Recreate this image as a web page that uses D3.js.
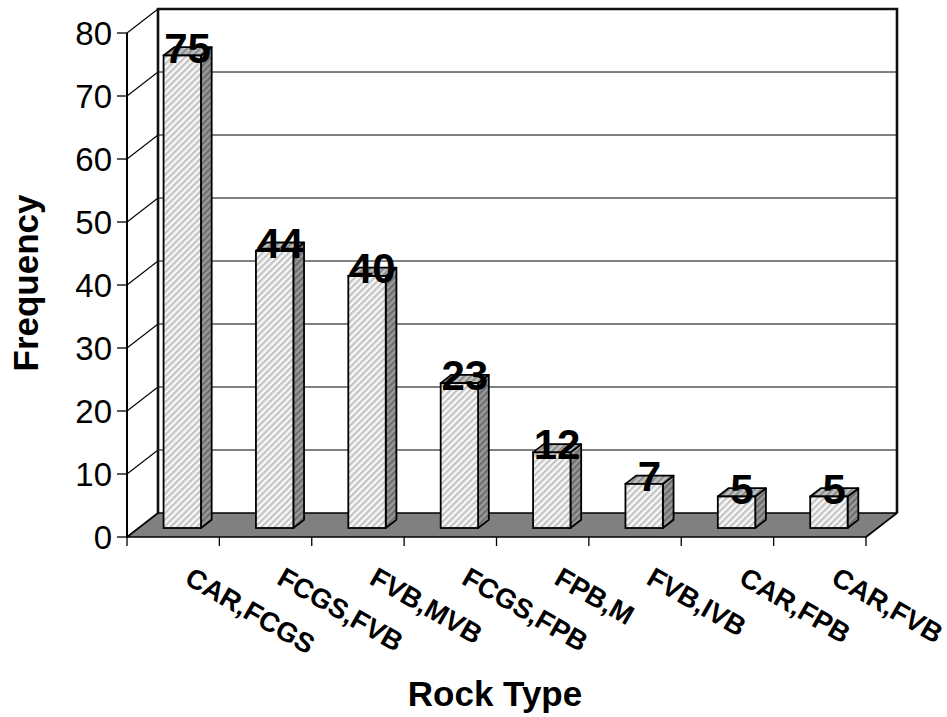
<!DOCTYPE html>
<html>
<head>
<meta charset="utf-8">
<script src="https://cdn.jsdelivr.net/npm/d3@7"></script>
<style>
  html, body { margin: 0; padding: 0; background: #fff; }
  svg { display: block; font-family: Arial, "Liberation Sans", sans-serif; }
</style>
</head>
<body>
<svg id="chart" width="947" height="717"></svg>
<script>
// Rock type frequencies
const categories = ["CAR,FCGS", "FCGS,FVB", "FVB,MVB", "FCGS,FPB", "FPB,M", "FVB,IVB", "CAR,FPB", "CAR,FVB"];
const frequency = [75, 44, 40, 23, 12, 7, 5, 5];
const yTicks = [0, 10, 20, 30, 40, 50, 60, 70, 80];

const svg = d3.select("#chart");

// Front plane of the 3-D box
const x0 = 127, x1 = 866, base = 537;
const depth = { dx: 31, dy: -24 };          // offset of the back plane
const x = d3.scaleBand().domain(categories).range([x0, x1]).paddingInner(0).paddingOuter(0);
const h = d3.scaleLinear().domain([0, 80]).range([0, 504]);   // height above the base
const yFront = v => base - h(v);
const off = t => [depth.dx * t, depth.dy * t];

// Hatch patterns for bar faces
const defs = svg.append("defs");
function hatch(id, bg, stripe) {
  const p = defs.append("pattern").attr("id", id)
    .attr("patternUnits", "userSpaceOnUse")
    .attr("width", 4.6).attr("height", 4.6)
    .attr("patternTransform", "rotate(45)");
  p.append("rect").attr("width", 4.6).attr("height", 4.6).attr("fill", bg);
  p.append("rect").attr("width", 2.2).attr("height", 4.6).attr("fill", stripe);
}
hatch("hFront", "#f8f8f8", "#c4c4c4");
hatch("hSide", "#9a9a9a", "#6e6e6e");
hatch("hTop", "#c2c2c2", "#8e8e8e");

const [bdx, bdy] = off(1);

// Back wall gridlines
svg.append("g").selectAll("line").data(yTicks.filter(v => v > 0 && v < 80)).join("line")
  .attr("x1", x0 + bdx).attr("x2", x1 + bdx)
  .attr("y1", v => yFront(v) + bdy).attr("y2", v => yFront(v) + bdy)
  .attr("stroke", "#000").attr("stroke-width", 1);

// Left wall gridlines (diagonals)
svg.append("g").selectAll("line").data(yTicks.filter(v => v > 0)).join("line")
  .attr("x1", x0).attr("x2", x0 + bdx)
  .attr("y1", v => yFront(v)).attr("y2", v => yFront(v) + bdy)
  .attr("stroke", "#000").attr("stroke-width", 1.1);

// Back wall outline: top, right, and the left back edge
const topY = yFront(80) + bdy, backBase = base + bdy;
svg.append("path")
  .attr("d", `M${x0 + bdx},${backBase} L${x0 + bdx},${topY} L${x1 + bdx},${topY} L${x1 + bdx},${backBase}`)
  .attr("fill", "none").attr("stroke", "#111").attr("stroke-width", 2.6);

// Floor
svg.append("path")
  .attr("d", `M${x0},${base} L${x1},${base} L${x1 + bdx},${backBase} L${x0 + bdx},${backBase} Z`)
  .attr("fill", "#808080").attr("stroke", "#000").attr("stroke-width", 1.6).attr("stroke-linejoin", "round");

// Bars
const bw = x.bandwidth();
const barStart = bw * 0.27, barWidth = bw * 0.405;
const tF = 0.375, tB = 0.72;
const [fdx, fdy] = off(tF), [kdx, kdy] = off(tB);

const bars = svg.append("g").selectAll("g").data(categories.map((c, i) => ({ c, v: frequency[i] }))).join("g");
bars.each(function(d) {
  const g = d3.select(this);
  const L = x(d.c) + barStart + fdx, R = L + barWidth;
  const B = base + fdy, T = yFront(d.v) + fdy;
  const sx = kdx - fdx, sy = kdy - fdy;
  // side face
  g.append("path")
    .attr("d", `M${R},${B} L${R + sx},${B + sy} L${R + sx},${T + sy} L${R},${T} Z`)
    .attr("fill", "url(#hSide)").attr("stroke", "#000").attr("stroke-width", 1.8).attr("stroke-linejoin", "round");
  // top face
  g.append("path")
    .attr("d", `M${L},${T} L${R},${T} L${R + sx},${T + sy} L${L + sx},${T + sy} Z`)
    .attr("fill", "url(#hTop)").attr("stroke", "#000").attr("stroke-width", 1.8).attr("stroke-linejoin", "round");
  // front face
  g.append("rect")
    .attr("x", L).attr("y", T).attr("width", barWidth).attr("height", B - T)
    .attr("fill", "url(#hFront)").attr("stroke", "#000").attr("stroke-width", 1.8);
});

// Value labels
bars.append("text")
  .attr("x", d => x(d.c) + barStart + fdx + barWidth / 2 + (kdx - fdx) / 2)
  .attr("y", d => yFront(d.v) + fdy + 7)
  .attr("text-anchor", "middle")
  .attr("font-size", 42).attr("font-weight", "bold").attr("fill", "#000")
  .text(d => d.v);

// Y axis (front left edge) with ticks and labels
svg.append("line").attr("x1", x0).attr("x2", x0).attr("y1", yFront(80)).attr("y2", base)
  .attr("stroke", "#000").attr("stroke-width", 2);
const yAxis = svg.append("g");
yAxis.selectAll("line").data(yTicks).join("line")
  .attr("x1", x0 - 10).attr("x2", x0)
  .attr("y1", v => yFront(v)).attr("y2", v => yFront(v))
  .attr("stroke", "#000").attr("stroke-width", 1.3);
yAxis.selectAll("text").data(yTicks).join("text")
  .attr("x", x0 - 15).attr("y", v => yFront(v)).attr("dy", "0.35em")
  .attr("text-anchor", "end").attr("font-size", 33).attr("fill", "#000")
  .text(v => v);

// X axis ticks at category boundaries
const bounds = categories.map(c => x(c)).concat([x1]);
svg.append("g").selectAll("line").data(bounds).join("line")
  .attr("x1", d => d).attr("x2", d => d).attr("y1", base).attr("y2", base + 9)
  .attr("stroke", "#000").attr("stroke-width", 1.3);

// Category labels, rotated
svg.append("g").selectAll("text").data(categories).join("text")
  .attr("transform", c => `translate(${x(c) + bw / 2 + 10},583) rotate(30)`)
  .attr("font-size", 27.5).attr("font-weight", "bold").attr("fill", "#000")
  .text(c => c);

// Axis titles
svg.append("text").attr("x", 495).attr("y", 706).attr("text-anchor", "middle")
  .attr("font-size", 35).attr("font-weight", "bold").text("Rock Type");
svg.append("text").attr("transform", "translate(38,283) rotate(-90)").attr("text-anchor", "middle")
  .attr("font-size", 35).attr("font-weight", "bold").text("Frequency");
</script>
</body>
</html>
